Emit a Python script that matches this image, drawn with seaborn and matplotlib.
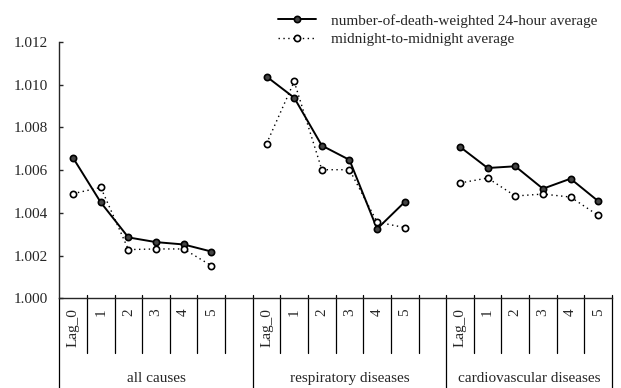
import numpy as np
import pandas as pd
import matplotlib
matplotlib.use('Agg')
import matplotlib.pyplot as plt
from matplotlib.lines import Line2D
import seaborn as sns

sns.set_style("ticks")
plt.rcParams['font.family'] = ['Liberation Serif', 'DejaVu Serif']
plt.rcParams['font.size'] = 11

# Values
causes = ['all causes', 'respiratory diseases', 'cardiovascular diseases']
lag_labels = ['Lag_0', '1', '2', '3', '4', '5']
series_names = ['number-of-death-weighted 24-hour average', 'midnight-to-midnight average']

weighted = {
    'all causes': [1.00657, 1.00449, 1.00285, 1.00263, 1.00252, 1.00219],
    'respiratory diseases': [1.01038, 1.00939, 1.00715, 1.00648, 1.00325, 1.00451],
    'cardiovascular diseases': [1.00709, 1.00610, 1.00618, 1.00513, 1.00560, 1.00455],
}
midnight = {
    'all causes': [1.00490, 1.00519, 1.00228, 1.00231, 1.00231, 1.00153],
    'respiratory diseases': [1.00724, 1.01015, 1.00602, 1.00602, 1.00357, 1.00331],
    'cardiovascular diseases': [1.00540, 1.00563, 1.00479, 1.00488, 1.00474, 1.00388],
}

# Long table; each cause occupies 7 slots (6 lags + a gap), the last one only 6
rows = []
for g, cause in enumerate(causes):
    for i, lab in enumerate(lag_labels):
        pos = g * 7 + i + 0.5
        rows.append((cause, lab, pos, series_names[0], weighted[cause][i]))
        rows.append((cause, lab, pos, series_names[1], midnight[cause][i]))
df = pd.DataFrame(rows, columns=['cause', 'lag', 'pos', 'series', 'value'])

fig = plt.figure(figsize=(6.21, 3.88), dpi=100)
ax = fig.add_axes([0.0955, 0.2312, 0.890, 0.6606])

styles = {
    series_names[0]: dict(linestyle='-', linewidth=1.4, markerfacecolor='#444444'),
    series_names[1]: dict(linestyle=(0, (1, 2.5)), linewidth=1.0, markerfacecolor='white'),
}
for name in series_names:
    sns.lineplot(data=df[df['series'] == name], x='pos', y='value', units='cause',
                 estimator=None, color='black', marker='o', markersize=4.5,
                 markeredgecolor='black', markeredgewidth=1.2, legend=False,
                 ax=ax, **styles[name])

n_slots = 20
ax.set_xlim(0, n_slots)
ax.set_ylim(1.000, 1.012)
ax.set_yticks(np.arange(1.000, 1.0121, 0.002))
ax.set_yticklabels([f'{v:.3f}' for v in np.arange(1.000, 1.0121, 0.002)])
ax.set_xticks([])
ax.set_xlabel('')
ax.set_ylabel('')
ax.tick_params(axis='y', direction='in', length=3, width=1, labelsize=11, pad=8)
sns.despine(ax=ax, top=True, right=True)
ax.spines['left'].set_linewidth(1)
ax.spines['bottom'].set_linewidth(1)

# Table below the axis
tr = ax.get_xaxis_transform()
group_edges = [0, 7, 14, 20]
for b in range(1, n_slots):
    if b in group_edges:
        continue
    ax.plot([b, b], [0.012, -0.213], transform=tr, color='black', lw=0.9, clip_on=False)
for b in group_edges:
    ax.plot([b, b], [0.012 if b else 0, -0.36], transform=tr, color='black', lw=0.9, clip_on=False)

for g, cause in enumerate(causes):
    for i, lab in enumerate(lag_labels):
        ax.text(g * 7 + i + 0.5, -0.04, lab, transform=tr, rotation=90,
                ha='center', va='top', fontsize=11)
    end = group_edges[g + 1]
    ax.text((group_edges[g] + end) / 2, -0.312, cause, transform=tr,
            ha='center', va='center', fontsize=11)

handles = [
    Line2D([], [], color='black', lw=1.4, marker='o', markersize=4.5,
           markerfacecolor='#444444', markeredgecolor='black', markeredgewidth=1.2),
    Line2D([], [], color='black', lw=1.0, linestyle=(0, (1, 2.5)), marker='o', markersize=4.5,
           markerfacecolor='white', markeredgecolor='black', markeredgewidth=1.2),
]
fig.legend(handles, series_names, loc='upper left', bbox_to_anchor=(0.430, 0.992),
           frameon=False, fontsize=11, handlelength=2.5, handletextpad=1.0,
           labelspacing=0.3, borderpad=0.2)

fig.savefig('out.png', dpi=100)
